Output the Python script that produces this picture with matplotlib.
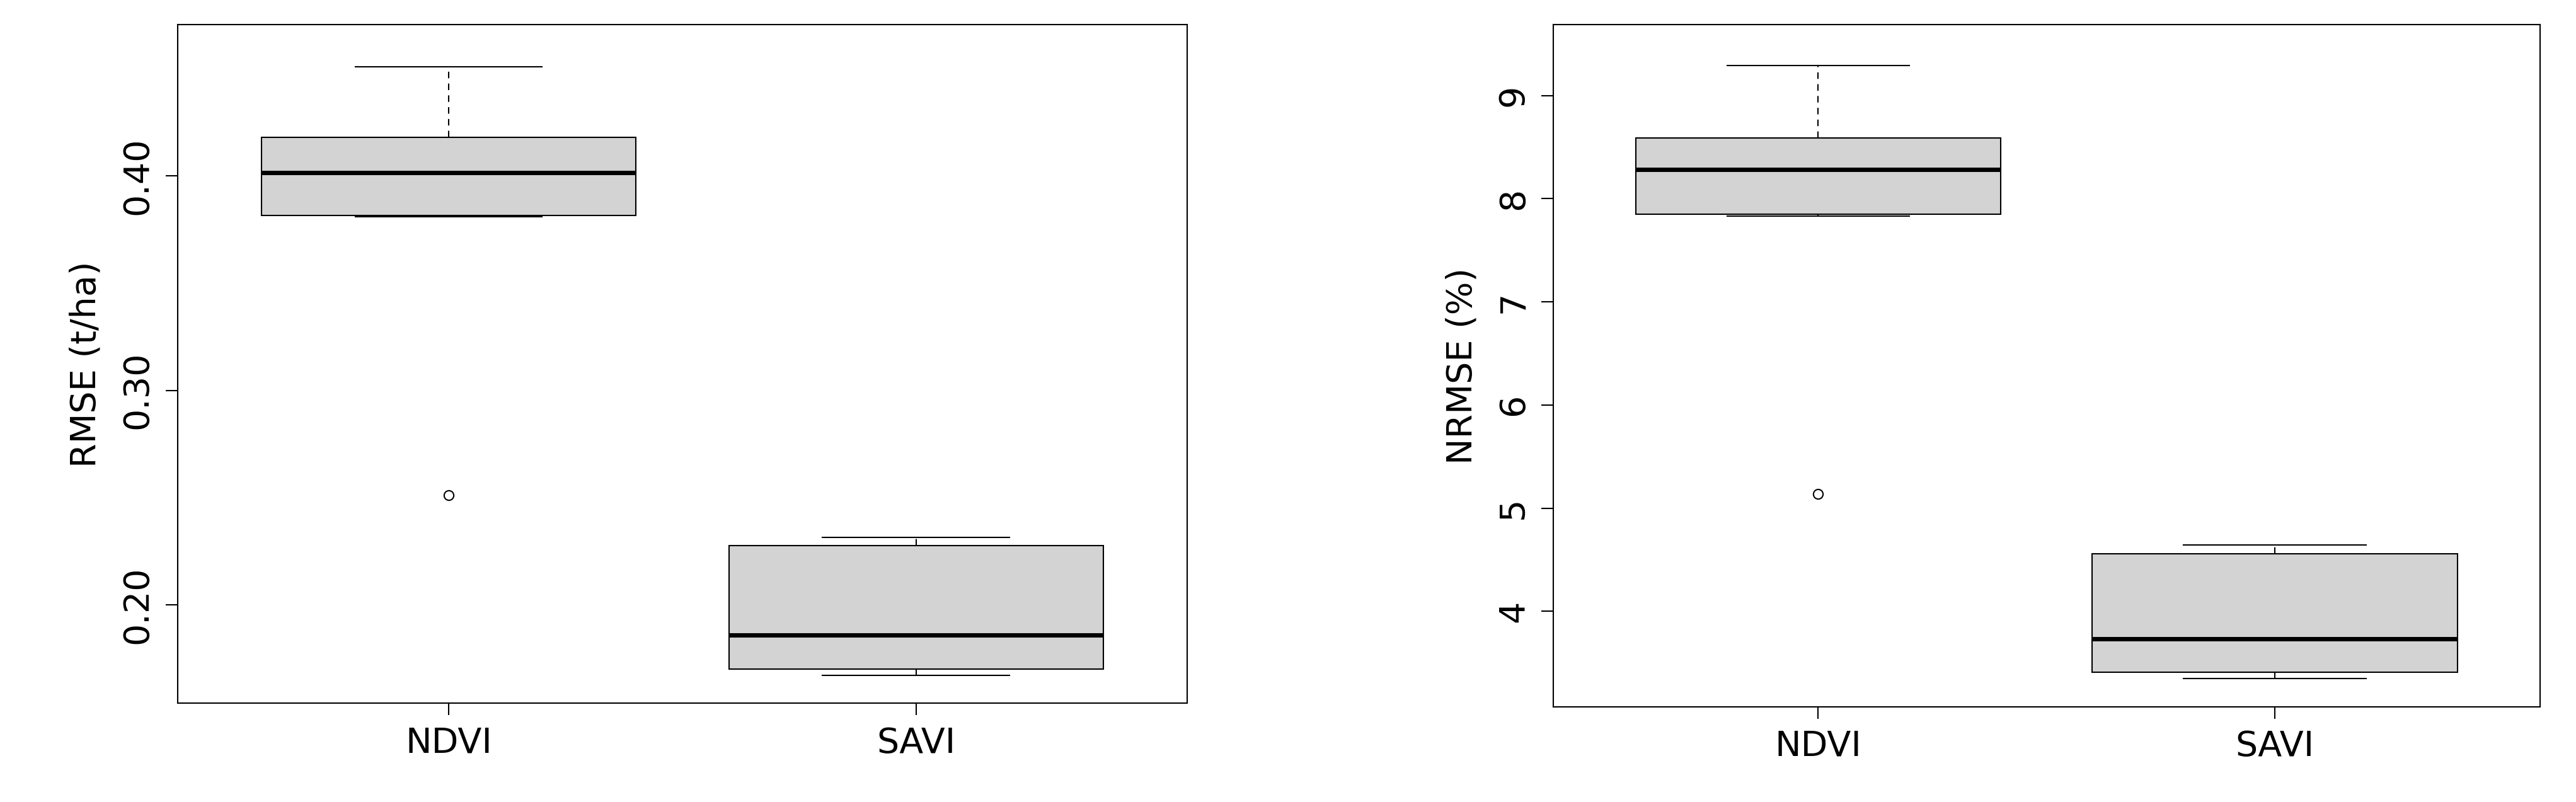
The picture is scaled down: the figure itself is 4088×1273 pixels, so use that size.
import matplotlib
matplotlib.use('Agg')
from matplotlib import pyplot as plt

# values (box statistics)
groups = ['NDVI', 'SAVI']

rmse_whislo = [0.381, 0.167]
rmse_q1 = [0.3816, 0.170]
rmse_med = [0.4015, 0.186]
rmse_q3 = [0.418, 0.2276]
rmse_whishi = [0.451, 0.2314]
rmse_fliers = [[0.251], []]
rmse_ticks = [0.20, 0.30, 0.40]
rmse_ticklabels = ['0.20', '0.30', '0.40']

nrmse_whislo = [7.83, 3.35]
nrmse_q1 = [7.85, 3.41]
nrmse_med = [8.28, 3.73]
nrmse_q3 = [8.59, 4.56]
nrmse_whishi = [9.29, 4.64]
nrmse_fliers = [[5.14], []]
nrmse_ticks = [4, 5, 6, 7, 8, 9]


def stats(lo, q1, med, q3, hi, fl):
    return [dict(whislo=lo[i], q1=q1[i], med=med[i], q3=q3[i], whishi=hi[i],
                 fliers=fl[i], label=groups[i]) for i in range(len(groups))]


def draw(ax, st, ylim, ticks, ticklabels, ylabel):
    ax.bxp(st, positions=[1, 2], widths=0.8, patch_artist=True,
           boxprops=dict(facecolor='#d3d3d3', edgecolor='black', linewidth=1.5),
           medianprops=dict(color='black', linewidth=5),
           whiskerprops=dict(color='black', linewidth=1.5, linestyle=(0, (5, 4))),
           capprops=dict(color='black', linewidth=1.5),
           capwidths=0.4,
           flierprops=dict(marker='o', markerfacecolor='white', markeredgecolor='black',
                           markersize=11, markeredgewidth=1.5))
    ax.set_xlim(0.42, 2.58)
    ax.set_ylim(*ylim)
    ax.set_yticks(ticks)
    ax.set_yticklabels(ticklabels, rotation=90, va='center')
    ax.set_ylabel(ylabel, fontsize=40, labelpad=20)
    ax.tick_params(labelsize=40, length=14, width=1.5, pad=12)
    for s in ax.spines.values():
        s.set_linewidth(1.5)


fig = plt.figure(figsize=(40.88, 12.73), dpi=100)
ax1 = fig.add_axes([0.0689, 0.123, 0.392, 0.846])
ax2 = fig.add_axes([0.603, 0.119, 0.383, 0.850])

draw(ax1, stats(rmse_whislo, rmse_q1, rmse_med, rmse_q3, rmse_whishi, rmse_fliers),
     (0.154, 0.4705), rmse_ticks, rmse_ticklabels, 'RMSE (t/ha)')
draw(ax2, stats(nrmse_whislo, nrmse_q1, nrmse_med, nrmse_q3, nrmse_whishi, nrmse_fliers),
     (3.076, 9.685), nrmse_ticks, [str(t) for t in nrmse_ticks], 'NRMSE (%)')

fig.savefig('out.png', dpi=100)
